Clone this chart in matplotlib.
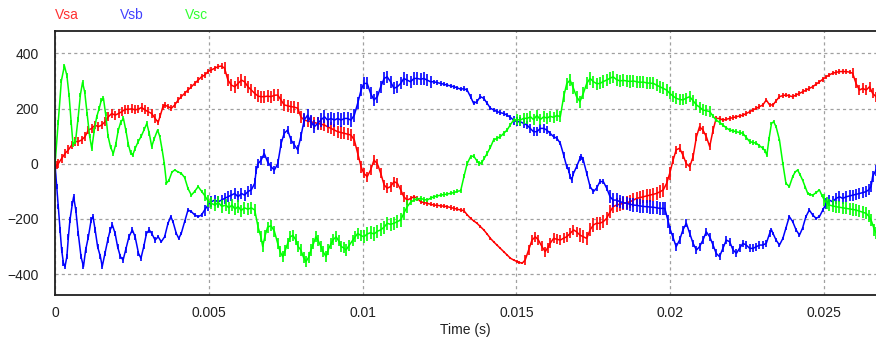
import numpy as np
import matplotlib
matplotlib.use("Agg")
import matplotlib.pyplot as plt

plt.rcParams["font.family"] = ["Liberation Sans", "DejaVu Sans"]

# Vsa (time in ms, voltage)
t_sa = [0.0, 0.05, 0.1, 0.21, 0.32, 0.43, 0.54, 0.65, 0.75, 0.86, 0.97, 1.08, 1.19, 1.3, 1.4, 1.51, 1.62, 1.73,
        1.84, 1.95, 2.06, 2.16, 2.27, 2.38, 2.49, 2.6, 2.71, 2.81, 2.92, 3.03, 3.14, 3.25, 3.35, 3.42, 3.5, 3.56,
        3.67, 3.78, 3.89, 4.0, 4.1, 4.21, 4.32, 4.43, 4.54, 4.65, 4.76, 4.86, 4.97, 5.08, 5.19, 5.3, 5.41, 5.51,
        5.62, 5.73, 5.84, 5.95, 6.06, 6.16, 6.27, 6.38, 6.49, 6.6, 6.7, 6.8, 6.91, 7.02, 7.13, 7.24, 7.35, 7.45,
        7.56, 7.67, 7.78, 7.89, 7.99, 8.1, 8.21, 8.32, 8.43, 8.54, 8.65, 8.76, 8.86, 8.97, 9.08, 9.19, 9.3, 9.41,
        9.51, 9.62, 9.73, 9.84, 9.95, 10.04, 10.15, 10.26, 10.37, 10.48, 10.59, 10.7, 10.8, 10.91, 11.02, 11.13,
        11.24, 11.34, 11.45, 11.56, 11.67, 11.78, 11.89, 12.0, 12.1, 12.21, 12.32, 12.43, 12.54, 12.65, 12.76,
        12.87, 12.97, 13.08, 13.19, 13.29, 13.4, 13.51, 13.61, 13.72, 13.83, 13.94, 14.05, 14.16, 14.26, 14.37,
        14.48, 14.59, 14.7, 14.81, 14.91, 15.02, 15.1, 15.19, 15.29, 15.4, 15.51, 15.62, 15.72, 15.83, 15.94,
        16.02, 16.1, 16.21, 16.32, 16.43, 16.54, 16.64, 16.75, 16.86, 16.96, 17.07, 17.18, 17.29, 17.4, 17.51,
        17.61, 17.72, 17.83, 17.94, 18.05, 18.15, 18.26, 18.37, 18.48, 18.59, 18.7, 18.81, 18.91, 19.02, 19.13,
        19.24, 19.35, 19.46, 19.56, 19.67, 19.78, 19.89, 19.99, 20.1, 20.2, 20.31, 20.42, 20.53, 20.64, 20.75,
        20.86, 20.96, 21.07, 21.18, 21.29, 21.4, 21.5, 21.61, 21.72, 21.83, 21.94, 22.05, 22.16, 22.26, 22.37,
        22.48, 22.59, 22.7, 22.81, 22.91, 23.02, 23.13, 23.24, 23.35, 23.45, 23.56, 23.67, 23.77, 23.88, 23.99,
        24.1, 24.21, 24.32, 24.43, 24.53, 24.64, 24.75, 24.86, 24.97, 25.08, 25.18, 25.29, 25.4, 25.51, 25.62,
        25.73, 25.84, 25.94, 26.05, 26.16, 26.27, 26.38, 26.49, 26.59, 26.7]
v_sa = [-17, -5, 0, 19, 37, 50, 68, 80, 80, 86, 98, 122, 128, 140, 134, 140, 152, 170,
        182, 176, 182, 188, 197, 197, 199, 195, 198, 204, 195, 188, 182, 164, 150, 175, 205, 213,
        207, 201, 213, 231, 243, 255, 267, 279, 291, 303, 315, 321, 334, 340, 346, 352, 354, 346,
        303, 285, 279, 291, 303, 297, 279, 267, 255, 245, 243, 243, 245, 243, 248, 249, 230, 213,
        210, 207, 205, 201, 170, 158, 155, 152, 149, 146, 143, 140, 134, 128, 122, 116, 113, 110,
        107, 104, 86, 37, -11, -35, -47, -23, 13, 0, -35, -77, -89, -83, -65, -71,
        -95, -120, -132, -126, -120, -126, -138, -141, -144, -147, -150, -151, -153, -154, -156,
        -159, -162, -165, -168, -170, -185, -198, -207, -216, -228, -240, -255, -271, -283, -295,
        -307, -319, -331, -343, -349, -355, -358, -361, -349, -313, -277, -265, -277, -300, -319,
        -305, -289, -271, -274, -277, -270, -265, -253, -240, -247, -259, -265, -271, -240, -222,
        -216, -216, -210, -198, -174, -156, -150, -147, -144, -141, -138, -132, -126, -123, -120,
        -117, -114, -111, -108, -102, -95, -71, -35, 13, 50, 56, 31, 0, -11, 25,
        98, 134, 122, 98, 62, 122, 164, 164, 158, 161, 164, 167, 170, 173, 176,
        182, 188, 195, 201, 207, 213, 231, 213, 213, 228, 243, 247, 249, 246, 243,
        249, 255, 261, 267, 273, 279, 288, 297, 306, 315, 322, 328, 331, 334, 334,
        334, 332, 328, 291, 267, 273, 267, 279, 255, 243]

# Vsb
t_sb = [0.0, 0.05, 0.1, 0.16, 0.21, 0.27, 0.32, 0.38, 0.43, 0.48, 0.56, 0.6, 0.67, 0.75, 0.84, 0.92, 0.99,
        1.08, 1.17, 1.23, 1.3, 1.38, 1.47, 1.53, 1.62, 1.71, 1.79, 1.86, 1.95, 2.03, 2.12, 2.21, 2.29, 2.4,
        2.51, 2.6, 2.71, 2.79, 2.88, 2.97, 3.06, 3.14, 3.25, 3.35, 3.45, 3.56, 3.67, 3.76, 3.83, 3.94, 4.02,
        4.1, 4.21, 4.32, 4.43, 4.54, 4.65, 4.76, 4.86, 4.97, 5.08, 5.19, 5.3, 5.41, 5.51, 5.62, 5.73, 5.84,
        5.95, 6.06, 6.16, 6.27, 6.38, 6.49, 6.54, 6.6, 6.7, 6.8, 6.91, 7.02, 7.13, 7.24, 7.35, 7.45, 7.56,
        7.67, 7.78, 7.89, 7.99, 8.1, 8.21, 8.32, 8.43, 8.54, 8.64, 8.76, 8.86, 8.97, 9.08, 9.19, 9.3, 9.41,
        9.51, 9.62, 9.73, 9.84, 9.95, 10.04, 10.15, 10.26, 10.37, 10.48, 10.59, 10.7, 10.8, 10.91, 11.02,
        11.13, 11.24, 11.34, 11.45, 11.56, 11.67, 11.78, 11.89, 11.99, 12.1, 12.21, 12.32, 12.43, 12.54,
        12.65, 12.76, 12.87, 12.97, 13.08, 13.19, 13.29, 13.4, 13.51, 13.61, 13.72, 13.83, 13.94, 14.05,
        14.16, 14.26, 14.37, 14.48, 14.59, 14.7, 14.81, 14.91, 15.02, 15.13, 15.24, 15.35, 15.45, 15.56,
        15.67, 15.78, 15.89, 15.99, 16.1, 16.21, 16.32, 16.43, 16.54, 16.64, 16.7, 16.75, 16.8, 16.86,
        16.96, 17.07, 17.12, 17.18, 17.29, 17.4, 17.51, 17.61, 17.72, 17.83, 17.94, 18.05, 18.15, 18.26,
        18.37, 18.48, 18.59, 18.7, 18.81, 18.91, 19.02, 19.13, 19.24, 19.35, 19.46, 19.56, 19.67, 19.78,
        19.83, 19.94, 20.01, 20.09, 20.2, 20.31, 20.42, 20.53, 20.64, 20.75, 20.86, 20.96, 21.07, 21.18,
        21.29, 21.4, 21.5, 21.61, 21.72, 21.83, 21.94, 22.05, 22.16, 22.26, 22.37, 22.48, 22.59, 22.7,
        22.81, 22.91, 23.02, 23.13, 23.24, 23.3, 23.35, 23.45, 23.56, 23.67, 23.77, 23.88, 23.99, 24.1,
        24.21, 24.31, 24.42, 24.53, 24.64, 24.75, 24.86, 24.97, 25.08, 25.18, 25.29, 25.4, 25.51, 25.62,
        25.73, 25.84, 25.94, 26.05, 26.16, 26.27, 26.38, 26.46, 26.54, 26.59, 26.7]
v_sb = [-11, -83, -156, -240, -313, -361, -373, -337, -265, -204, -144, -120, -168, -253, -337, -373, -313,
        -265, -204, -192, -240, -301, -337, -373, -325, -277, -240, -222, -253, -301, -337, -349, -313, -265,
        -240, -265, -325, -343, -301, -253, -240, -253, -277, -265, -283, -265, -216, -192, -210, -253, -271,
        -253, -210, -168, -174, -186, -192, -186, -168, -150, -138, -132, -138, -132, -126, -120, -114, -108,
        -120, -108, -114, -101, -95, -71, -23, 0, 13, 37, 7, -11, -23, 0, 74, 110, 122,
        86, 68, 50, 98, 158, 176, 152, 134, 146, 158, 170, 158, 164, 158, 164, 158, 164,
        164, 158, 176, 219, 267, 291, 291, 255, 231, 243, 279, 309, 315, 297, 273,
        279, 291, 309, 303, 297, 309, 309, 306, 309, 303, 297, 297, 294, 291,
        288, 285, 282, 279, 275, 270, 272, 267, 243, 219, 225, 243, 237, 219,
        201, 195, 189, 185, 182, 176, 168, 158, 152, 152, 146, 140, 128, 116,
        116, 128, 128, 122, 110, 98, 92, 74, 31, -11, -23, -47, -59, -35,
        -11, 19, 25, 13, -35, -83, -101, -89, -65, -65, -89, -120, -132, -132,
        -138, -141, -144, -147, -150, -151, -153, -155, -156, -157, -158, -160, -162, -162,
        -162, -210, -240, -265, -301, -277, -240, -216, -253, -289, -313, -301, -277, -247,
        -265, -295, -325, -337, -307, -277, -283, -313, -325, -307, -289, -295, -307, -307,
        -301, -295, -295, -289, -253, -240, -253, -277, -295, -271, -234, -192, -210, -240,
        -259, -234, -192, -168, -186, -198, -192, -168, -144, -132, -138, -126, -120, -126,
        -120, -117, -114, -111, -108, -105, -101, -95, -83, -47, -23]

# Vsc
t_sc = [0.0, 0.1, 0.2, 0.3, 0.38, 0.45, 0.52, 0.58, 0.66, 0.74, 0.82, 0.89, 0.96, 1.04, 1.12, 1.19, 1.27,
        1.35, 1.43, 1.5, 1.57, 1.64, 1.72, 1.8, 1.89, 1.97, 2.05, 2.13, 2.22, 2.3, 2.38, 2.45, 2.52, 2.6,
        2.7, 2.8, 2.9, 2.98, 3.06, 3.14, 3.22, 3.33, 3.4, 3.48, 3.55, 3.62, 3.7, 3.8, 3.89, 4.0, 4.1, 4.21,
        4.32, 4.43, 4.54, 4.65, 4.76, 4.86, 4.97, 5.08, 5.2, 5.3, 5.42, 5.55, 5.65, 5.75, 5.85, 5.95, 6.05,
        6.15, 6.27, 6.38, 6.49, 6.6, 6.69, 6.75, 6.83, 6.91, 7.02, 7.13, 7.24, 7.32, 7.4, 7.48, 7.56, 7.65,
        7.73, 7.82, 7.9, 7.99, 8.08, 8.16, 8.24, 8.32, 8.4, 8.48, 8.56, 8.64, 8.72, 8.81, 8.89, 8.97, 9.05,
        9.14, 9.22, 9.3, 9.38, 9.46, 9.57, 9.68, 9.76, 9.84, 9.94, 10.04, 10.15, 10.26, 10.37, 10.48, 10.59,
        10.7, 10.8, 10.91, 11.02, 11.13, 11.24, 11.34, 11.45, 11.56, 11.67, 11.78, 11.89, 12.0, 12.1, 12.21,
        12.32, 12.43, 12.54, 12.65, 12.76, 12.87, 12.97, 13.08, 13.19, 13.3, 13.4, 13.51, 13.61, 13.72, 13.8,
        13.88, 13.96, 14.05, 14.16, 14.26, 14.37, 14.48, 14.59, 14.7, 14.8, 14.91, 15.02, 15.13, 15.24, 15.35,
        15.46, 15.56, 15.67, 15.78, 15.89, 16.0, 16.1, 16.21, 16.32, 16.43, 16.54, 16.64, 16.75, 16.86, 16.96,
        17.07, 17.18, 17.29, 17.4, 17.51, 17.62, 17.72, 17.83, 17.94, 18.05, 18.15, 18.26, 18.37, 18.48, 18.59,
        18.7, 18.81, 18.91, 19.02, 19.13, 19.24, 19.35, 19.46, 19.56, 19.67, 19.78, 19.89, 19.99, 20.1, 20.2,
        20.31, 20.42, 20.53, 20.64, 20.75, 20.86, 20.96, 21.07, 21.18, 21.29, 21.4, 21.5, 21.61, 21.72, 21.83,
        21.94, 22.05, 22.16, 22.26, 22.37, 22.48, 22.59, 22.7, 22.81, 22.91, 23.02, 23.1, 23.15, 23.22, 23.3,
        23.37, 23.45, 23.56, 23.67, 23.77, 23.88, 23.99, 24.07, 24.15, 24.23, 24.31, 24.4, 24.48, 24.56, 24.64,
        24.75, 24.86, 24.94, 25.02, 25.1, 25.18, 25.29, 25.4, 25.51, 25.62, 25.73, 25.84, 25.94, 26.05, 26.16,
        26.27, 26.38, 26.46, 26.54, 26.65, 26.7]
v_sc = [5, 150, 300, 355, 320, 250, 150, 70, 80, 160, 250, 295, 260, 180, 100, 55, 120,
        170, 200, 230, 237, 180, 100, 60, 37, 70, 120, 150, 164, 120, 70, 40, 31, 55,
        80, 100, 125, 146, 110, 62, 90, 122, 100, 50, 0, -71, -60, -30, -23, -30, -35, -50,
        -90, -114, -100, -83, -100, -115, -135, -144, -150, -140, -155, -150, -160, -150, -165, -155, -170,
        -160, -165, -160, -168, -230, -265, -300, -260, -230, -225, -245, -290, -320, -337, -315, -290, -265,
        -260, -275, -300, -313, -340, -355, -340, -313, -290, -265, -280, -300, -320, -337, -310, -290, -275,
        -265, -280, -300, -305, -313, -295, -277, -265, -253, -260, -265, -255, -250, -255, -245, -240,
        -230, -216, -220, -216, -210, -204, -180, -156, -140, -132, -128, -126, -130, -132, -125,
        -120, -117, -114, -112, -110, -107, -105, -100, -98, -45, 0, 25, 28, 10, 0,
        5, 20, 37, 60, 86, 92, 98, 110, 122, 140, 158, 160, 158, 165, 164,
        170, 160, 175, 160, 170, 165, 172, 168, 175, 170, 243, 290, 303, 273, 243,
        225, 255, 291, 309, 297, 290, 291, 298, 303, 310, 315, 305, 300, 302, 300,
        298, 300, 297, 295, 296, 293, 292, 291, 285, 279, 273, 267, 255, 245, 237,
        233, 231, 238, 243, 228, 213, 205, 195, 192, 189, 172, 158, 150, 140, 130,
        122, 119, 116, 113, 110, 95, 80, 77, 74, 65, 56, 45, 31, 90, 146,
        152, 134, 86, 0, -71, -83, -47, -30, -23, -40, -59, -85, -108, -112, -114,
        -105, -95, -115, -132, -142, -150, -153, -156, -158, -160, -162, -164, -166, -168, -172,
        -176, -180, -190, -204, -240, -250]

# switching ripple half-amplitude (V), constant between the edges (ms)
rip_edges_sa = [0, 3.3, 5.5, 10.0, 11.5, 13.4, 15.2, 17.0, 20.0, 21.5, 25.9, 27]
rip_sa = [16, 10, 22, 18, 8, 4, 18, 24, 14, 8, 18]
rip_edges_sb = [0, 3.3, 4.8, 6.5, 8.0, 9.8, 12.3, 14.9, 16.0, 16.5, 18.0, 20.0, 23.3, 25.0, 27]
rip_sb = [10, 6, 20, 16, 24, 22, 8, 16, 8, 10, 24, 14, 6, 20]
rip_edges_sc = [0, 3.3, 4.8, 6.6, 10.0, 11.5, 13.3, 15.0, 16.6, 20.0, 21.3, 23.3, 25.0, 27]
rip_sc = [8, 5, 22, 20, 24, 8, 8, 20, 22, 20, 8, 5, 22]

series = [
    ("Vsa", "#ff0000", t_sa, v_sa, rip_edges_sa, rip_sa),
    ("Vsb", "#0000ff", t_sb, v_sb, rip_edges_sb, rip_sb),
    ("Vsc", "#00ff00", t_sc, v_sc, rip_edges_sc, rip_sc),
]

fig = plt.figure(figsize=(8.76, 3.41), dpi=100)
ax = fig.add_axes([0.063, 0.135, 0.937, 0.774])

for name, color, t, v, edges, amp in series:
    t = np.array(t) / 1000.0
    v = np.array(v, dtype=float)
    r = np.array(amp)[np.searchsorted(edges, t * 1000.0, side="right") - 1]
    ax.vlines(t, v - r, v + r, color=color, linewidth=1.2)
    ax.plot(t, v, color=color, linewidth=1.1)

ax.set_xlim(0, 0.0267)
ax.set_ylim(-476, 481)
ax.set_xticks([0, 0.005, 0.01, 0.015, 0.02, 0.025])
ax.set_xticklabels(["0", "0.005", "0.01", "0.015", "0.02", "0.025"])
ax.set_yticks([-400, -200, 0, 200, 400])
ax.tick_params(length=0, labelsize=10, colors="#202020")
ax.tick_params(axis="y", pad=12)
ax.tick_params(axis="x", pad=8)
ax.grid(True, color="#a0a0a0", linestyle=(0, (2.5, 2.5)), linewidth=0.9)
ax.set_axisbelow(True)
for s in ["left", "bottom", "top"]:
    ax.spines[s].set_color("#202020")
    ax.spines[s].set_linewidth(1.3)
ax.spines["right"].set_visible(False)

fig.text(0.531, 1 - 330 / 341, "Time (s)", ha="center", va="center", fontsize=10, color="#202020")

# legend labels above the plot
for name, color, xpix in [("Vsa", "#ff3030", 55), ("Vsb", "#4040ff", 120), ("Vsc", "#30ff30", 185)]:
    fig.text(xpix / 876, 1 - 15 / 341, name, color=color, fontsize=10, va="center", ha="left")

fig.savefig("out.png", dpi=100)
